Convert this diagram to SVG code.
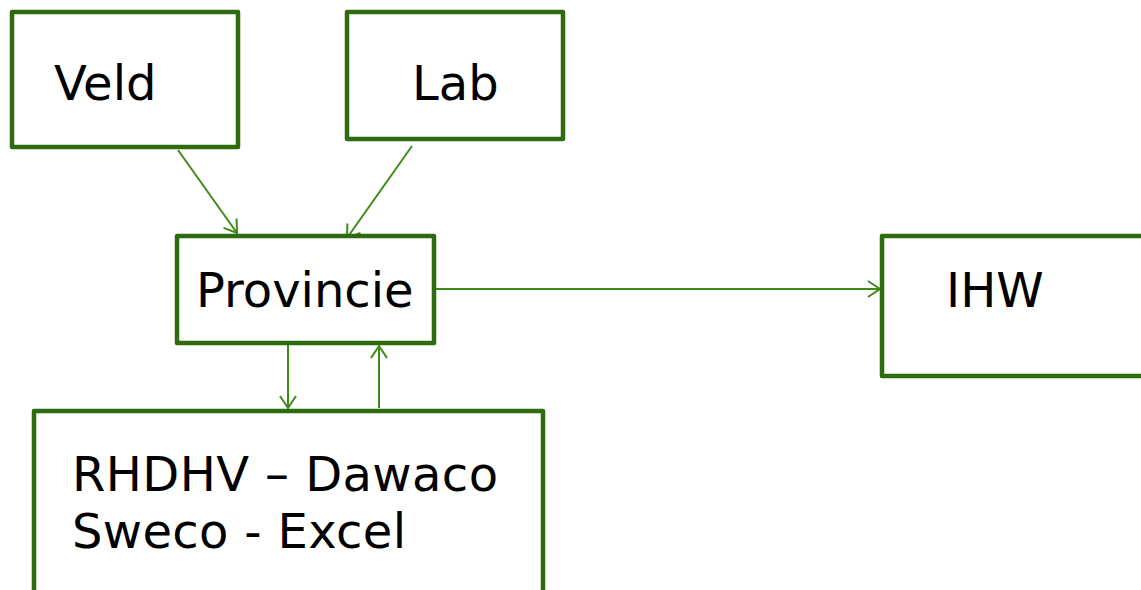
<svg xmlns="http://www.w3.org/2000/svg" width="1141" height="590" viewBox="0 0 1141 590">
<style>
.box{fill:#fff;stroke:#2E6B0F;stroke-width:4.5;stroke-linejoin:round}
.lbl{font-family:"DejaVu Sans",Verdana,sans-serif;font-size:48px;fill:#000}
.con{stroke:#3C8C16;stroke-width:2;fill:none;marker-end:url(#ah)}
</style>
<defs>
<marker id="ah" markerWidth="14" markerHeight="18" refX="13" refY="9" orient="auto" markerUnits="userSpaceOnUse">
<path d="M1,1 L13,9 L1,17" fill="none" stroke="#3C8C16" stroke-width="2"/>
</marker>
</defs>
<rect width="1141" height="590" fill="#fff"/>
<g id="connectors">
<line class="con" x1="178" y1="150" x2="237" y2="233"/>
<line class="con" x1="412" y1="146" x2="347" y2="238"/>
<line class="con" x1="436" y1="289" x2="880" y2="289"/>
<line class="con" x1="288" y1="345" x2="288" y2="408"/>
<line class="con" x1="379" y1="408" x2="379" y2="346"/>
</g>
<g id="veld"><rect class="box" x="12" y="12" width="226" height="135"/><text class="lbl" x="54" y="100">Veld</text></g>
<g id="lab"><rect class="box" x="347" y="12" width="216" height="127"/><text class="lbl" x="412" y="100">Lab</text></g>
<g id="provincie"><rect class="box" x="177" y="236" width="257" height="107"/><text class="lbl" x="196" y="307">Provincie</text></g>
<g id="ihw"><rect class="box" x="882" y="236" width="270" height="140"/><text class="lbl" x="946" y="307">IHW</text></g>
<g id="rhdhv"><rect class="box" x="34" y="411" width="509" height="200"/><text class="lbl" x="72" y="491" textLength="426">RHDHV – Dawaco</text><text class="lbl" x="72" y="548" textLength="334">Sweco - Excel</text></g>
</svg>
